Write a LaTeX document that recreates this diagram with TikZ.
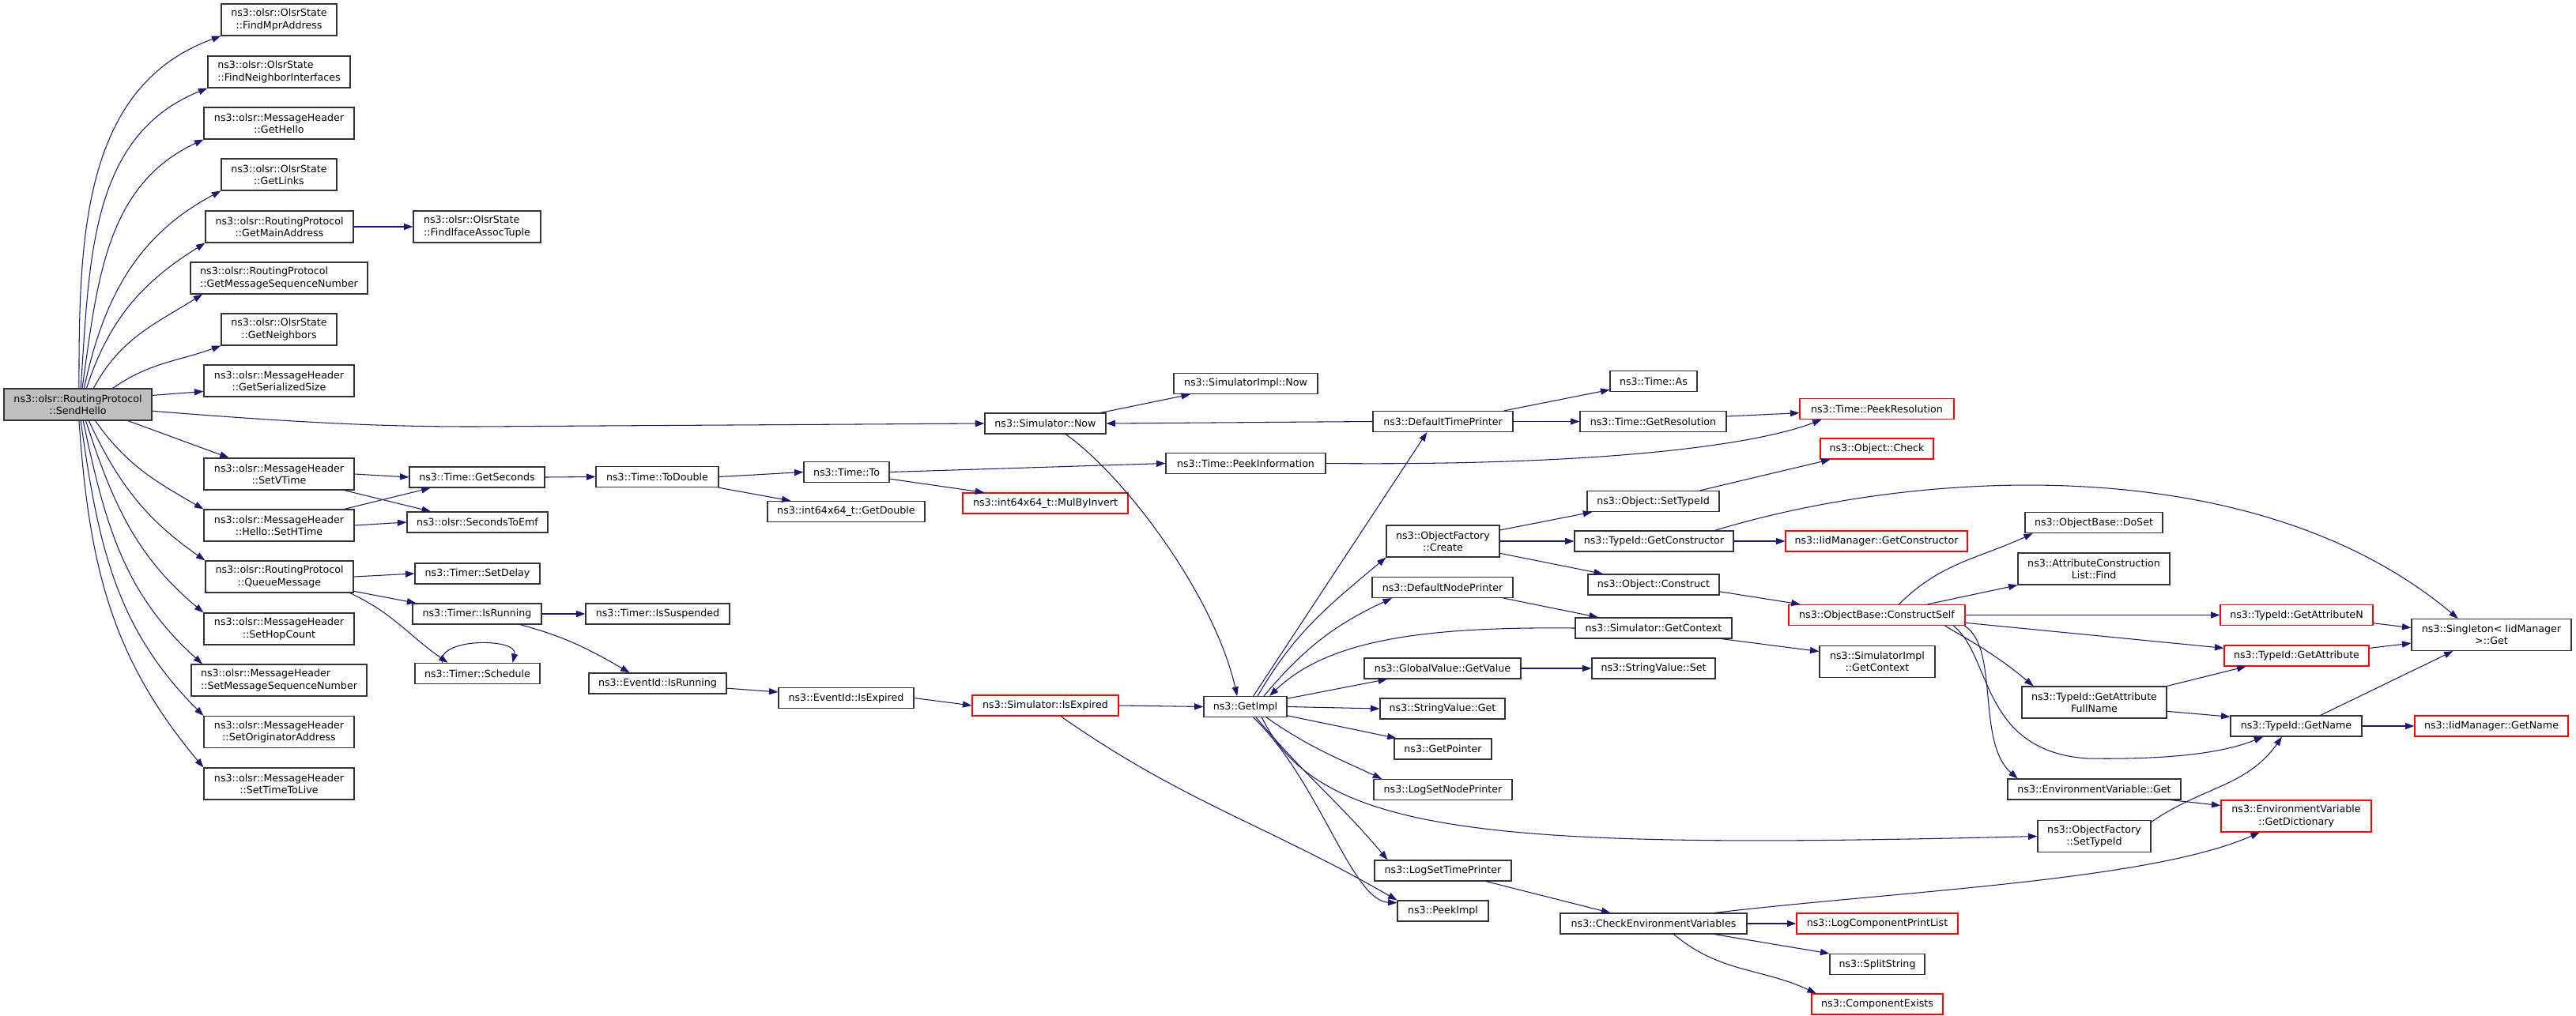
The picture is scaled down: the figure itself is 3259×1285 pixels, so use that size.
\documentclass[tikz,border=0pt]{standalone}
\usepackage{fontspec}
\setmainfont{DejaVu Sans}
\usepackage{tikz}
\usetikzlibrary{arrows.meta}
\definecolor{edgeblue}{RGB}{25,25,112}
\definecolor{boxred}{RGB}{255,0,0}
\definecolor{rootgray}{RGB}{191,191,191}
\tikzset{
  fn/.style={draw=black!80, line width=0.7pt, fill=white, inner xsep=2pt, inner ysep=1pt,
    minimum height=0.52cm, font=\fontsize{7.2pt}{8.6pt}\selectfont, align=center},
  fntwo/.style={fn, minimum height=0.8cm},
  fnred/.style={fn, draw=boxred},
  fnredtwo/.style={fntwo, draw=boxred},
  fnroot/.style={fntwo, fill=rootgray},
  call/.style={-{Triangle[length=6.5pt,width=4.6pt]}, draw=edgeblue, line width=0.6pt}
}
\begin{document}
\begin{tikzpicture}[x=0.02cm, y=0.02cm]
        \useasboundingbox (0,0) rectangle (3259,-1285);
        \node[fnroot, minimum width=3.74cm] (sendHello) at (98.5,-512) {ns3::olsr::RoutingProtocol\\::SendHello};
        \node[fntwo, minimum width=2.92cm] (findMpr) at (353,-25) {ns3::olsr::OlsrState\\::FindMprAddress};
        \node[fntwo, minimum width=3.6cm, align=left] (findNeigh) at (353,-91) {ns3::olsr::OlsrState\\::FindNeighborInterfaces};
        \node[fntwo, minimum width=3.8cm] (getHello) at (353,-156) {ns3::olsr::MessageHeader\\::GetHello};
        \node[fntwo, minimum width=2.92cm] (getLinks) at (353,-221) {ns3::olsr::OlsrState\\::GetLinks};
        \node[fntwo, minimum width=3.74cm] (getMainAddr) at (353.5,-287) {ns3::olsr::RoutingProtocol\\::GetMainAddress};
        \node[fntwo, minimum width=4.48cm, align=left] (getMsgSeq) at (353,-352) {ns3::olsr::RoutingProtocol\\::GetMessageSequenceNumber};
        \node[fntwo, minimum width=2.92cm] (getNeighbors) at (353,-417) {ns3::olsr::OlsrState\\::GetNeighbors};
        \node[fntwo, minimum width=3.8cm] (getSerSize) at (353,-482) {ns3::olsr::MessageHeader\\::GetSerializedSize};
        \node[fntwo, minimum width=3.8cm] (setVTime) at (353,-600) {ns3::olsr::MessageHeader\\::SetVTime};
        \node[fntwo, minimum width=3.8cm] (setHTime) at (353,-665) {ns3::olsr::MessageHeader\\::Hello::SetHTime};
        \node[fntwo, minimum width=3.74cm] (queueMsg) at (353.5,-730) {ns3::olsr::RoutingProtocol\\::QueueMessage};
        \node[fntwo, minimum width=3.8cm] (setHopCount) at (353,-796) {ns3::olsr::MessageHeader\\::SetHopCount};
        \node[fntwo, minimum width=4.44cm, align=left] (setMsgSeq) at (353,-861) {ns3::olsr::MessageHeader\\::SetMessageSequenceNumber};
        \node[fntwo, minimum width=3.8cm] (setOrigAddr) at (353,-926.5) {ns3::olsr::MessageHeader\\::SetOriginatorAddress};
        \node[fntwo, minimum width=3.8cm] (setTTL) at (353,-992) {ns3::olsr::MessageHeader\\::SetTimeToLive};
        \node[fntwo, minimum width=3.22cm, align=left] (findIface) at (603.5,-287) {ns3::olsr::OlsrState\\::FindIfaceAssocTuple};
        \node[fn, minimum width=3.42cm] (getSeconds) at (603.5,-604) {ns3::Time::GetSeconds};
        \node[fn, minimum width=3.56cm] (secondsToEmf) at (604,-661) {ns3::olsr::SecondsToEmf};
        \node[fn, minimum width=3.16cm] (setDelay) at (604,-726) {ns3::Timer::SetDelay};
        \node[fn, minimum width=3.26cm] (isRunning) at (603.5,-777) {ns3::Timer::IsRunning};
        \node[fn, minimum width=3.16cm] (schedule) at (604,-852.5) {ns3::Timer::Schedule};
        \node[fn, minimum width=3.1cm] (toDouble) at (831.5,-603.5) {ns3::Time::ToDouble};
        \node[fn, minimum width=3.64cm] (isSuspended) at (832,-777) {ns3::Timer::IsSuspended};
        \node[fn, minimum width=3.48cm] (evIsRunning) at (832,-865) {ns3::EventId::IsRunning};
        \node[fn, minimum width=2.16cm] (timeTo) at (1071,-597.5) {ns3::Time::To};
        \node[fn, minimum width=3.98cm] (getDouble) at (1070.5,-647.5) {ns3::int64x64\_t::GetDouble};
        \node[fn, minimum width=3.42cm] (evIsExpired) at (1070.5,-883.5) {ns3::EventId::IsExpired};
        \node[fn, minimum width=3.06cm] (simNow) at (1322.5,-536) {ns3::Simulator::Now};
        \node[fnred, minimum width=4.18cm] (mulByInvert) at (1322.5,-637) {ns3::int64x64\_t::MulByInvert};
        \node[fnred, minimum width=3.7cm] (simIsExpired) at (1322.5,-893) {ns3::Simulator::IsExpired};
        \node[fn, minimum width=3.64cm] (simImplNow) at (1576,-485.5) {ns3::SimulatorImpl::Now};
        \node[fn, minimum width=4.04cm] (peekInfo) at (1576,-586.5) {ns3::Time::PeekInformation};
        \node[fn, minimum width=2.1cm] (getImpl) at (1575.5,-894.5) {ns3::GetImpl};
        \node[fn, minimum width=3.54cm] (defTimePrinter) at (1825.5,-533.5) {ns3::DefaultTimePrinter};
        \node[fntwo, minimum width=2.86cm] (objCreate) at (1825.5,-685) {ns3::ObjectFactory\\::Create};
        \node[fn, minimum width=3.56cm] (defNodePrinter) at (1825,-743.5) {ns3::DefaultNodePrinter};
        \node[fn, minimum width=3.96cm] (gvGetValue) at (1825,-846) {ns3::GlobalValue::GetValue};
        \node[fn, minimum width=3.16cm] (svGet) at (1825,-897) {ns3::StringValue::Get};
        \node[fn, minimum width=2.46cm] (getPointer) at (1825.5,-948) {ns3::GetPointer};
        \node[fn, minimum width=3.5cm] (logSetNodePrinter) at (1825.5,-999.5) {ns3::LogSetNodePrinter};
        \node[fn, minimum width=3.46cm] (logSetTimePrinter) at (1825.5,-1102) {ns3::LogSetTimePrinter};
        \node[fn, minimum width=2.3cm] (peekImpl) at (1825.5,-1153) {ns3::PeekImpl};
        \node[fn, minimum width=2.2cm] (timeAs) at (2092,-482.5) {ns3::Time::As};
        \node[fn, minimum width=3.7cm] (getResolution) at (2091.5,-533.5) {ns3::Time::GetResolution};
        \node[fn, minimum width=3.34cm] (setTypeIdObj) at (2091.5,-634.5) {ns3::Object::SetTypeId};
        \node[fn, minimum width=4.02cm] (tidGetConstructor) at (2092.5,-685) {ns3::TypeId::GetConstructor};
        \node[fn, minimum width=3.32cm] (objConstruct) at (2092,-740) {ns3::Object::Construct};
        \node[fn, minimum width=3.96cm] (simGetContext) at (2092,-795) {ns3::Simulator::GetContext};
        \node[fn, minimum width=3.12cm] (svSet) at (2092,-846) {ns3::StringValue::Set};
        \node[fn, minimum width=4.72cm] (checkEnv) at (2092,-1169) {ns3::CheckEnvironmentVariables};
        \node[fnred, minimum width=3.9cm] (peekResolution) at (2374.5,-517.5) {ns3::Time::PeekResolution};
        \node[fnred, minimum width=2.86cm] (objCheck) at (2374.5,-568) {ns3::Object::Check};
        \node[fnred, minimum width=4.6cm] (iidGetConstructor) at (2374,-685) {ns3::IidManager::GetConstructor};
        \node[fnred, minimum width=4.46cm] (constructSelf) at (2374.5,-778.5) {ns3::ObjectBase::ConstructSelf};
        \node[fntwo, minimum width=2.92cm] (simImplGetContext) at (2375,-837.5) {ns3::SimulatorImpl\\::GetContext};
        \node[fnred, minimum width=4.08cm] (logCompPrintList) at (2375,-1169) {ns3::LogComponentPrintList};
        \node[fn, minimum width=2.4cm] (splitString) at (2375,-1220.5) {ns3::SplitString};
        \node[fnred, minimum width=3.32cm] (componentExists) at (2375,-1271) {ns3::ComponentExists};
        \node[fn, minimum width=3.48cm] (doSet) at (2649,-661.5) {ns3::ObjectBase::DoSet};
        \node[fntwo, minimum width=3.84cm] (attrFind) at (2649,-720) {ns3::AttributeConstruction\\List::Find};
        \node[fntwo, minimum width=3.66cm] (getAttrFullName) at (2649.5,-889) {ns3::TypeId::GetAttribute\\FullName};
        \node[fn, minimum width=4.38cm] (envGet) at (2649.5,-999) {ns3::EnvironmentVariable::Get};
        \node[fntwo, minimum width=2.86cm] (ofSetTypeId) at (2649.5,-1058.5) {ns3::ObjectFactory\\::SetTypeId};
        \node[fnred, minimum width=3.86cm] (getAttrN) at (2905.5,-778.5) {ns3::TypeId::GetAttributeN};
        \node[fnred, minimum width=3.66cm] (getAttribute) at (2905.5,-830) {ns3::TypeId::GetAttribute};
        \node[fn, minimum width=3.32cm] (getName) at (2905,-919) {ns3::TypeId::GetName};
        \node[fnredtwo, minimum width=3.8cm] (getDictionary) at (2905,-1033) {ns3::EnvironmentVariable\\::GetDictionary};
        \node[fntwo, minimum width=4.04cm] (singletonGet) at (3152,-803.5) {ns3::Singleton< IidManager\\>::Get};
        \node[fnred, minimum width=3.88cm] (iidGetName) at (3152,-919) {ns3::IidManager::GetName};

        \draw[call] (sendHello.86) to[out=90,in=200] (findMpr.south west);
        \draw[call] (sendHello.80) to[out=86,in=202] (findNeigh.south west);
        \draw[call] (sendHello.75) to[out=82,in=205] (getHello.south west);
        \draw[call] (sendHello.69) to[out=78,in=208] (getLinks.south west);
        \draw[call] (sendHello.62) to[out=72,in=212] (getMainAddr.south west);
        \draw[call] (sendHello.46) to[out=62,in=212] (getMsgSeq.192);
        \draw[call] (sendHello.25) to[out=35,in=200] (getNeighbors.south west);
        \draw[call] (sendHello.7) -- (getSerSize.188);
        \draw[call] (sendHello.-5) .. controls (400,-537) and (500,-540) .. (600,-540) -- (simNow.west);
        \draw[call] (sendHello.-18) -- (setVTime.162);
        \draw[call] (sendHello.-43) to[out=-55,in=150] (setHTime.north west);
        \draw[call] (sendHello.-56) to[out=-65,in=145] (queueMsg.north west);
        \draw[call] (sendHello.-64) to[out=-72,in=140] (setHopCount.north west);
        \draw[call] (sendHello.-72) to[out=-78,in=138] (setMsgSeq.168);
        \draw[call] (sendHello.-80) to[out=-82,in=135] (setOrigAddr.north west);
        \draw[call] (sendHello.-86) to[out=-86,in=130] (setTTL.north west);

        \draw[call] (getMainAddr.east) -- (findIface.west);
        \draw[call] (setVTime.east) -- (getSeconds.west);
        \draw[call] (setVTime.-14) -- (secondsToEmf.167);
        \draw[call] (setHTime.14) -- (getSeconds.193);
        \draw[call] (setHTime.east) -- (secondsToEmf.west);
        \draw[call] (getSeconds.east) -- (toDouble.west);
        \draw[call] (toDouble.east) -- (timeTo.west);
        \draw[call] (toDouble.-10) -- (getDouble.169);
        \draw[call] (timeTo.east) -- (peekInfo.west);
        \draw[call] (timeTo.-9) -- (mulByInvert.170);
        \draw[call] (queueMsg.east) -- (setDelay.west);
        \draw[call] (queueMsg.-11) -- (isRunning.170);
        \draw[call] (queueMsg.-13) to[out=-25,in=145] (schedule.160);
        \draw[call] (schedule.163) .. controls (552,-807) and (656,-807) .. (schedule.17);
        \draw[call] (isRunning.east) -- (isSuspended.west);
        \draw[call] (isRunning.-14) to[out=-15,in=150] (evIsRunning.159);
        \draw[call] (evIsRunning.-4) -- (evIsExpired.175);
        \draw[call] (evIsExpired.east) -- (simIsExpired.west);
        \draw[call] (simIsExpired.east) -- (getImpl.west);
        \draw[call] (simIsExpired.-35) to[out=-35,in=150] (peekImpl.north west);

        \draw[call] (simNow.11) -- (simImplNow.191);
        \draw[call] (simNow.-28) .. controls (1420,-600) and (1535,-750) .. (getImpl.127);
        \draw[call] (defTimePrinter.west) -- (simNow.east);
        \draw[call] (defTimePrinter.10) -- (timeAs.191);
        \draw[call] (defTimePrinter.east) -- (getResolution.west);
        \draw[call] (getResolution.4) -- (peekResolution.183);
        \draw[call] (peekInfo.east) .. controls (2050,-590) and (2230,-560) .. (peekResolution.191);
        \draw[call] (getImpl.53) -- (defTimePrinter.214);
        \draw[call] (getImpl.41) to[out=60,in=220] (objCreate.south west);
        \draw[call] (getImpl.30) to[out=50,in=205] (defNodePrinter.192);
        \draw[call] (simGetContext.west) .. controls (1800,-793) and (1680,-810) .. (getImpl.24);
        \draw[call] (getImpl.11) -- (gvGetValue.191);
        \draw[call] (getImpl.east) -- (svGet.west);
        \draw[call] (getImpl.-12) -- (getPointer.167);
        \draw[call] (getImpl.-27) to[out=-35,in=155] (logSetNodePrinter.170);
        \draw[call] (getImpl.-33) .. controls (1670,-1060) and (1900,-1075) .. (ofSetTypeId.west);
        \draw[call] (getImpl.-45) to[out=-50,in=130] (logSetTimePrinter.169);
        \draw[call] (getImpl.-53) .. controls (1670,-990) and (1710,-1140) .. (peekImpl.170);

        \draw[call] (objCreate.11) -- (setTypeIdObj.190);
        \draw[call] (objCreate.east) -- (tidGetConstructor.west);
        \draw[call] (objCreate.-12) -- (objConstruct.168);
        \draw[call] (setTypeIdObj.13) -- (objCheck.193);
        \draw[call] (tidGetConstructor.east) -- (iidGetConstructor.west);
        \draw[call] (tidGetConstructor.10) .. controls (2420,-595) and (2850,-565) .. (singletonGet.154);
        \draw[call] (objConstruct.-6) -- (constructSelf.172);
        \draw[call] (defNodePrinter.-10) -- (simGetContext.169);
        \draw[call] (simGetContext.-9) -- (simImplGetContext.170);
        \draw[call] (gvGetValue.east) -- (svSet.west);
        \draw[call] (logSetTimePrinter.-14) -- (checkEnv.166);
        \draw[call] (checkEnv.east) -- (logCompPrintList.west);
        \draw[call] (checkEnv.-10) -- (splitString.north west);
        \draw[call] (checkEnv.-28) to[out=-40,in=155] (componentExists.170);
        \draw[call] (checkEnv.10) .. controls (2400,-1128) and (2720,-1115) .. (getDictionary.204);

        \draw[call] (constructSelf.26) to[out=45,in=205] (doSet.190);
        \draw[call] (constructSelf.12) -- (attrFind.south west);
        \draw[call] (constructSelf.east) -- (getAttrN.west);
        \draw[call] (constructSelf.-5) -- (getAttribute.174);
        \draw[call] (constructSelf.-9) to[out=-30,in=140] (getAttrFullName.165);
        \draw[call] (constructSelf.-8) .. controls (2520,-830) and (2505,-950) .. (2640,-960) .. controls (2760,-962) and (2820,-950) .. (getName.198);
        \draw[call] (constructSelf.-7) .. controls (2530,-820) and (2500,-940) .. (envGet.172);
        \draw[call] (getAttrN.-6) -- (singletonGet.175);
        \draw[call] (getAttribute.6) -- (singletonGet.186);
        \draw[call] (getAttrFullName.north east) -- (getAttribute.192);
        \draw[call] (getAttrFullName.-7) -- (getName.172);
        \draw[call] (getName.24) -- (singletonGet.203);
        \draw[call] (getName.east) -- (iidGetName.west);
        \draw[call] (envGet.-8) -- (getDictionary.172);
        \draw[call] (ofSetTypeId.14) to[out=35,in=235] (getName.217);
    \end{tikzpicture}
\end{document}
